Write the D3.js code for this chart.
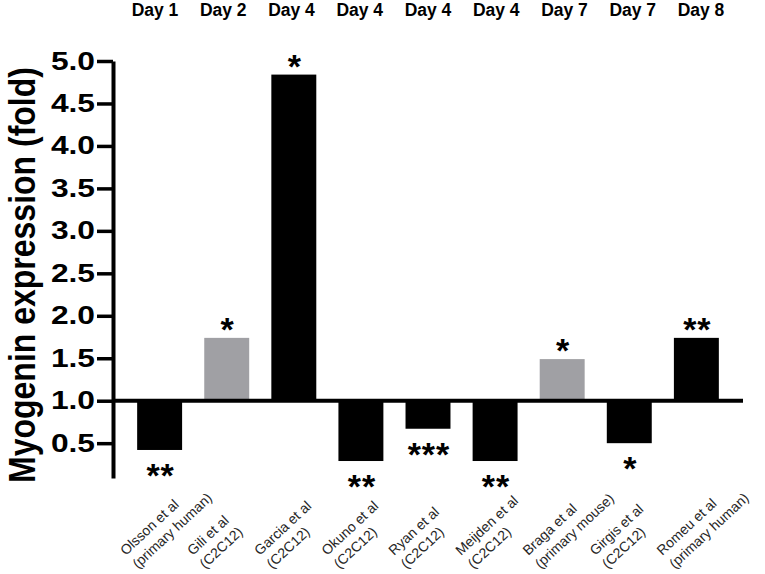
<!DOCTYPE html>
<html>
<head>
<meta charset="utf-8">
<script src="https://cdn.jsdelivr.net/npm/d3@7"></script>
<style>
  body { margin: 0; background: #fff; }
  text { font-family: "Liberation Sans", Arial, sans-serif; }
</style>
</head>
<body>
<div id="chart-area"></div>
<script>
// data
const authors = ["Olsson et al", "Gili et al", "Garcia et al", "Okuno et al", "Ryan et al",
  "Meijden et al", "Braga et al", "Girgis et al", "Romeu et al"]
const cells = ["(primary human)", "(C2C12)", "(C2C12)", "(C2C12)", "(C2C12)",
  "(C2C12)", "(primary mouse)", "(C2C12)", "(primary human)"]
const days = ["Day 1", "Day 2", "Day 4", "Day 4", "Day 4", "Day 4", "Day 7", "Day 7", "Day 8"]
const fold = [0.42, 1.74, 4.84, 0.29, 0.67, 0.29, 1.49, 0.50, 1.74]
const sig = ["**", "*", "*", "**", "***", "**", "*", "*", "**"]
const grey = [false, true, false, false, false, false, true, false, false]
const yTicks = [0.5, 1.0, 1.5, 2.0, 2.5, 3.0, 3.5, 4.0, 4.5, 5.0]

const W = 765, H = 574
const AXIS_X = 113

const svg = d3.select("#chart-area").append("svg")
  .attr("width", W)
  .attr("height", H)

const x = d3.scaleBand()
  .domain(d3.range(fold.length))
  .range([AXIS_X, 743])
  .paddingInner(0.33)
  .paddingOuter(0.36)

const dayX = d3.scalePoint()
  .domain(d3.range(days.length))
  .range([155, 701])

const y = d3.scaleLinear()
  .domain([0.09, 5])
  .range([478, 61])

const color = d3.scaleOrdinal()
  .domain([false, true])
  .range(["#000000", "#a0a0a4"])

// Y axis
const yAxisGroup = svg.append("g")
  .attr("transform", `translate(${AXIS_X}, 0)`)
  .call(d3.axisLeft(y).tickValues(yTicks).tickFormat(d3.format(".1f"))
    .tickSize(16).tickSizeOuter(0).tickPadding(18))

yAxisGroup.select(".domain")
  .attr("stroke", "#000")
  .attr("stroke-width", 4)

yAxisGroup.selectAll(".tick line")
  .attr("stroke", "#000")
  .attr("stroke-width", 3.5)

// tick numbers look horizontally stretched in the original
yAxisGroup.selectAll(".tick text")
  .attr("x", -18 / 1.27)
  .attr("transform", "scale(1.27,1)")
  .style("font-size", "25px")
  .style("font-weight", "bold")
  .attr("fill", "#000")

// Y label
svg.append("text")
  .attr("transform", `translate(35, ${y(2.48)}) scale(1.18,1) rotate(-90)`)
  .attr("text-anchor", "middle")
  .style("font-size", "32px")
  .style("font-weight", "bold")
  .text("Myogenin expression (fold)")

// Bars, measured from the 1.0 baseline
svg.selectAll("rect.bar")
  .data(fold)
  .enter().append("rect")
  .attr("class", "bar")
  .attr("x", (d, i) => x(i))
  .attr("width", x.bandwidth())
  .attr("y", d => Math.min(y(d), y(1)))
  .attr("height", d => Math.abs(y(d) - y(1)))
  .attr("fill", (d, i) => color(grey[i]))

// baseline at 1.0
svg.append("line")
  .attr("x1", AXIS_X)
  .attr("x2", x.range()[1])
  .attr("y1", y(1))
  .attr("y2", y(1))
  .attr("stroke", "#000")
  .attr("stroke-width", 4)

// Significance stars
svg.selectAll("text.sig")
  .data(fold)
  .enter().append("text")
  .attr("class", "sig")
  .attr("x", (d, i) => x(i) + x.bandwidth() / 2 + 1)
  .attr("y", d => d >= 1 ? y(d) + 3 : y(d) + 37)
  .attr("text-anchor", "middle")
  .style("font-size", "34px")
  .style("font-weight", "bold")
  .style("letter-spacing", "1px")
  .text((d, i) => sig[i])

// Day labels on top
svg.selectAll("text.day")
  .data(days)
  .enter().append("text")
  .attr("class", "day")
  .attr("x", (d, i) => dayX(i))
  .attr("y", 16)
  .attr("text-anchor", "middle")
  .style("font-size", "17.5px")
  .style("font-weight", "bold")
  .text(d => d)

// Rotated study labels
const labels = svg.selectAll("g.xlabel")
  .data(authors)
  .enter().append("g")
  .attr("class", "xlabel")
  .attr("transform", (d, i) => `translate(${x(i) + x.bandwidth() / 2 - 34}, 556) rotate(-43)`)

labels.append("text")
  .style("font-size", "14px")
  .attr("fill", "#262626")
  .text(d => d)

labels.append("text")
  .attr("y", 18)
  .style("font-size", "14px")
  .attr("fill", "#262626")
  .text((d, i) => cells[i])
</script>
</body>
</html>
